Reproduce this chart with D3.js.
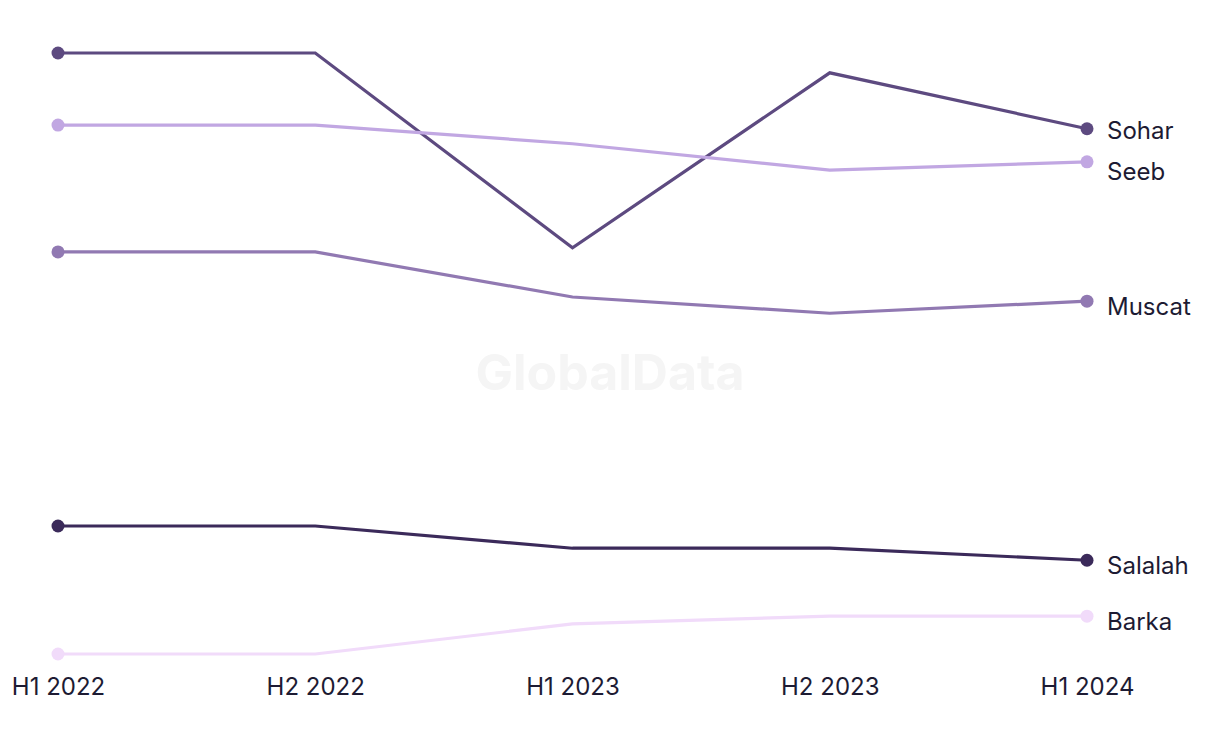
<!DOCTYPE html>
<html>
<head>
<meta charset="utf-8">
<script src="https://cdn.jsdelivr.net/npm/d3@7"></script>
<style>
  body { margin: 0; background: #ffffff; }
  text { font-family: Inter, "Liberation Sans", sans-serif; }
</style>
</head>
<body>
<div id="chart"></div>
<script>
// Data
// ===========================
var periods = ["H1 2022", "H2 2022", "H1 2023", "H2 2023", "H1 2024"];

var sohar   = [100, 100, 67.6, 96.7, 87.4];
var seeb    = [88.0, 88.0, 84.9, 80.5, 81.9];
var muscat  = [66.9, 66.9, 59.4, 56.7, 58.7];
var salalah = [21.3, 21.3, 17.6, 17.6, 15.6];
var barka   = [0, 0, 5.0, 6.3, 6.3];

var seriesNames = ["Sohar", "Seeb", "Muscat", "Salalah", "Barka"];
var seriesValues = [sohar, seeb, muscat, salalah, barka];
var seriesColors = ["#5d4a80", "#c1a7e2", "#9179b2", "#3b2a5a", "#f1dbfa"];

// Chart setup
// ===========================
var svgWidth = 1220;
var svgHeight = 744;

var svg = d3.select("#chart")
            .append("svg")
            .attr("width", svgWidth)
            .attr("height", svgHeight);

var xScale = d3.scalePoint()
               .domain(periods)
               .range([58, 1087]);

var yScale = d3.scaleLinear()
               .domain([0, 100])
               .range([654, 53]);

// watermark
svg.append("text")
   .attr("x", 610)
   .attr("y", 390)
   .attr("text-anchor", "middle")
   .style("font-size", "50px")
   .style("font-weight", "700")
   .style("fill", "#f5f5f5")
   .text("GlobalData");

var series = seriesNames.map(function(name, i) {
    return {
        name: name,
        color: seriesColors[i],
        points: periods.map(function(p, j) { return { period: p, value: seriesValues[i][j] }; })
    };
});

var line = d3.line()
             .x(d => xScale(d.period))
             .y(d => yScale(d.value));

var groups = svg.selectAll(".series")
                .data(series)
                .enter()
                .append("g")
                .attr("class", "series");

groups.append("path")
      .attr("d", d => line(d.points))
      .attr("fill", "none")
      .attr("stroke", d => d.color)
      .attr("stroke-width", 3.2);

// dots only at first and last period
groups.selectAll("circle")
      .data(d => [d.points[0], d.points[d.points.length - 1]].map(p => ({ p: p, color: d.color })))
      .enter()
      .append("circle")
      .attr("cx", d => xScale(d.p.period))
      .attr("cy", d => yScale(d.p.value))
      .attr("r", 6.5)
      .attr("fill", d => d.color);

// end labels, pushed apart so they don't overlap
var labels = series.map(function(s) {
    return { name: s.name, y: yScale(s.points[s.points.length - 1].value) + 5 };
}).sort((a, b) => a.y - b.y);

var minGap = 41;
for (var iter = 0; iter < 50; iter++) {
    for (var i = 1; i < labels.length; i++) {
        var gap = labels[i].y - labels[i - 1].y;
        if (gap < minGap) {
            var shift = (minGap - gap) / 2;
            labels[i - 1].y -= shift;
            labels[i].y += shift;
        }
    }
}

svg.selectAll(".endLabel")
   .data(labels)
   .enter()
   .append("text")
   .attr("class", "endLabel")
   .attr("x", 1107)
   .attr("y", d => d.y)
   .attr("dy", "0.38em")
   .style("font-size", "24px")
   .style("fill", "#1d1b33")
   .text(d => d.name);

// x axis labels
var bottomAxis = d3.axisBottom(xScale).tickSize(0).tickPadding(0);

var axisGroup = svg.append("g")
                   .attr("transform", "translate(0, 695)")
                   .call(bottomAxis);

axisGroup.select(".domain").remove();
axisGroup.selectAll("text")
         .attr("y", 0)
         .attr("dy", null)
         .style("font-size", "24px")
         .style("fill", "#1d1b33")
         .style("font-family", "Inter, 'Liberation Sans', sans-serif");
</script>
</body>
</html>
